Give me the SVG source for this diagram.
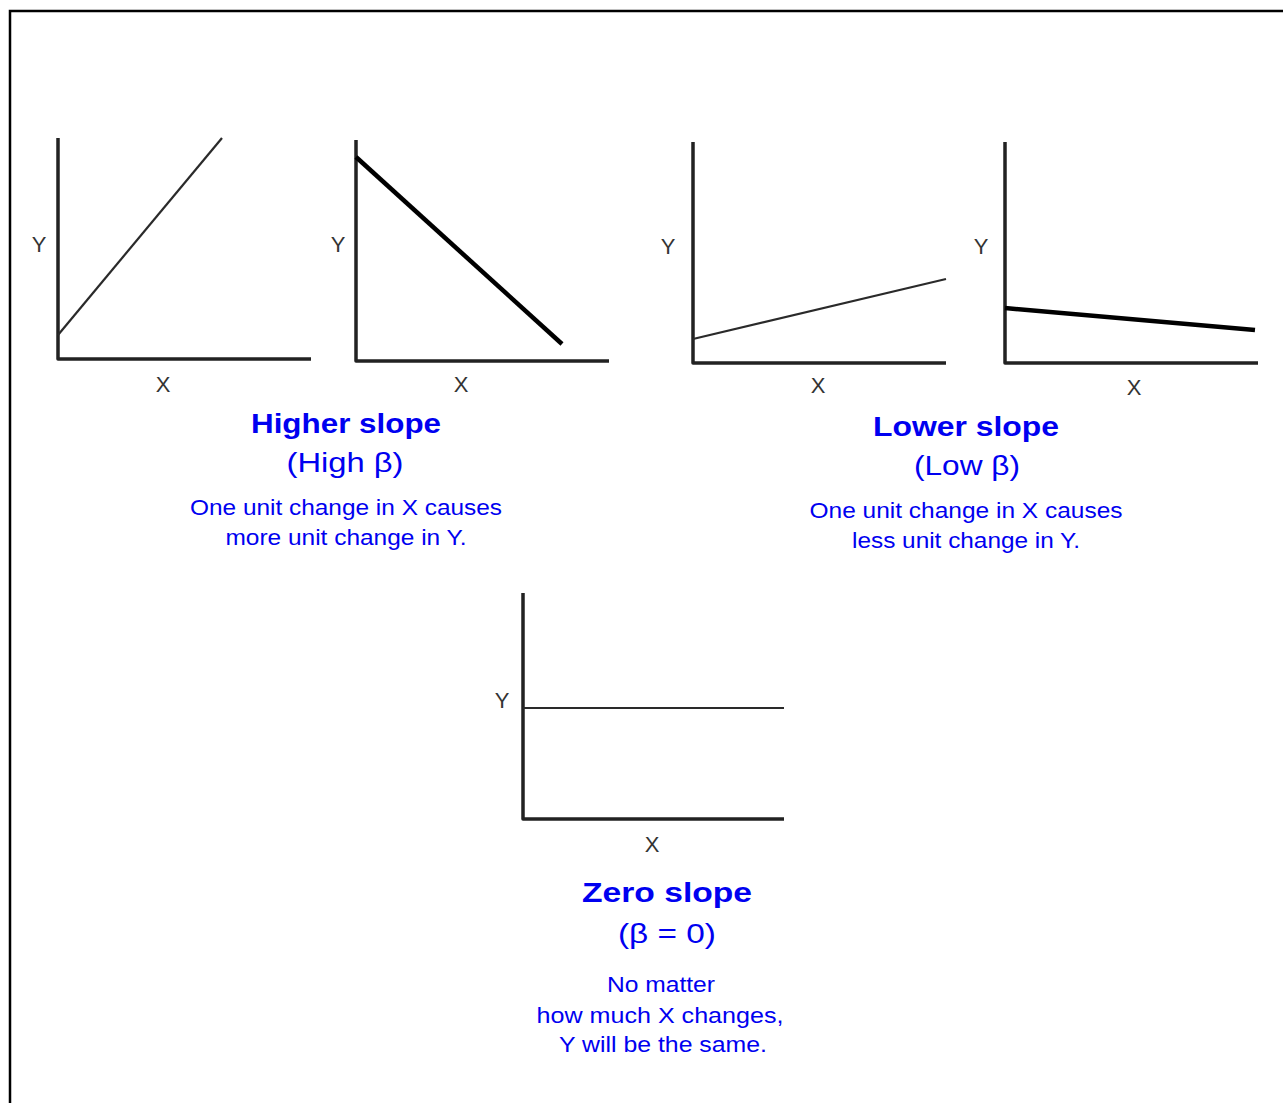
<svg xmlns="http://www.w3.org/2000/svg" width="1283" height="1103" viewBox="0 0 1283 1103">
<style>
.frame{fill:none;stroke:#000;stroke-width:2.5}
.axis{fill:none;stroke:#222;stroke-width:3.5;stroke-linejoin:round;stroke-linecap:butt}
.thin{fill:none;stroke:#2a2a2a;stroke-width:2.2}
.thick{fill:none;stroke:#000;stroke-width:4.5}
.lab{font-family:"Liberation Sans",Arial,sans-serif;font-size:22px;fill:#333;text-anchor:middle}
.ttl{font-family:"Liberation Sans",Arial,sans-serif;font-size:28px;font-weight:bold;fill:#0000f0;text-anchor:middle}
.sub{font-family:"Liberation Sans",Arial,sans-serif;font-size:28px;fill:#0000f0;text-anchor:middle}
.body{font-family:"Liberation Sans",Arial,sans-serif;font-size:22px;fill:#0000f0;text-anchor:middle}
</style>
<rect width="1283" height="1103" fill="#fff"/>
<path class="frame" d="M10,1103 V11 H1283"/>
<g id="graph-high-positive">
<path class="axis" d="M58,138 V359 H311"/>
<line class="thin" x1="58" y1="335" x2="222" y2="138"/>
<text class="lab" x="39" y="252">Y</text>
<text class="lab" x="163" y="392">X</text>
</g>
<g id="graph-high-negative">
<path class="axis" d="M356,140 V361 H609"/>
<line class="thick" x1="356" y1="157" x2="562" y2="344"/>
<text class="lab" x="338" y="252">Y</text>
<text class="lab" x="461" y="392">X</text>
</g>
<g id="graph-low-positive">
<path class="axis" d="M693,142 V363 H946"/>
<line class="thin" x1="693" y1="339" x2="946" y2="279"/>
<text class="lab" x="668" y="254">Y</text>
<text class="lab" x="818" y="393">X</text>
</g>
<g id="graph-low-negative">
<path class="axis" d="M1005,142 V363 H1258"/>
<line class="thick" x1="1005" y1="308" x2="1255" y2="330"/>
<text class="lab" x="981" y="254">Y</text>
<text class="lab" x="1134" y="395">X</text>
</g>
<g id="graph-zero">
<path class="axis" d="M523,593 V819 H784"/>
<line class="thin" x1="523" y1="708" x2="784" y2="708"/>
<text class="lab" x="502" y="708">Y</text>
<text class="lab" x="652" y="852">X</text>
</g>
<g id="caption-higher">
<text class="ttl" x="346" y="433" textLength="190" lengthAdjust="spacingAndGlyphs">Higher slope</text>
<text class="sub" x="345" y="472" textLength="117" lengthAdjust="spacingAndGlyphs">(High β)</text>
<text class="body" x="346" y="515" textLength="312" lengthAdjust="spacingAndGlyphs">One unit change in X causes</text>
<text class="body" x="346" y="545" textLength="241" lengthAdjust="spacingAndGlyphs">more unit change in Y.</text>
</g>
<g id="caption-lower">
<text class="ttl" x="966" y="436" textLength="186" lengthAdjust="spacingAndGlyphs">Lower slope</text>
<text class="sub" x="967" y="475" textLength="106" lengthAdjust="spacingAndGlyphs">(Low β)</text>
<text class="body" x="966" y="518" textLength="313" lengthAdjust="spacingAndGlyphs">One unit change in X causes</text>
<text class="body" x="966" y="548" textLength="228" lengthAdjust="spacingAndGlyphs">less unit change in Y.</text>
</g>
<g id="caption-zero">
<text class="ttl" x="667" y="902" textLength="170" lengthAdjust="spacingAndGlyphs">Zero slope</text>
<text class="sub" x="667" y="943" textLength="98" lengthAdjust="spacingAndGlyphs">(β = 0)</text>
<text class="body" x="661" y="992" textLength="108" lengthAdjust="spacingAndGlyphs">No matter</text>
<text class="body" x="660" y="1023" textLength="247" lengthAdjust="spacingAndGlyphs">how much X changes,</text>
<text class="body" x="663" y="1052" textLength="208" lengthAdjust="spacingAndGlyphs">Y will be the same.</text>
</g>
<g id="connectors"></g>
</svg>
